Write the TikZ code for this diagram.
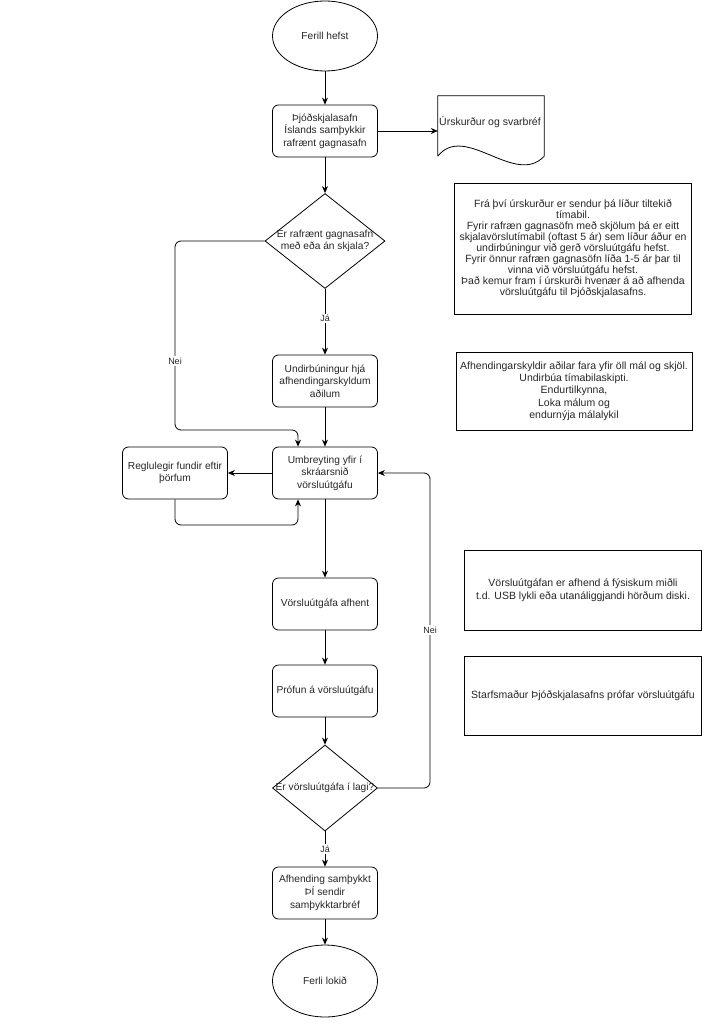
\documentclass[tikz,border=0pt]{standalone}
\usepackage{fontspec}
\setmainfont{Liberation Sans}
\usetikzlibrary{arrows.meta,shapes.geometric}
\begin{document}
\begin{tikzpicture}[x=1pt,y=-1pt,
  every node/.style={font=\fontsize{10.2}{12.7}\selectfont, text=black!85},
  proc/.style={draw, rounded corners=6pt, line width=0.8pt, minimum width=105pt, minimum height=52pt, inner sep=1pt, align=center},
  term/.style={draw, ellipse, line width=0.8pt, minimum width=105pt, minimum height=70pt, inner sep=0pt, align=center},
  decision/.style={draw, diamond, line width=0.8pt, inner sep=0pt},
  notebox/.style={draw, line width=0.8pt, inner sep=0pt},
  conn/.style={line width=0.8pt, -{Stealth[length=7pt,width=6pt]}},
  lab/.style={fill=white, inner sep=1.5pt, font=\fontsize{9}{10}\selectfont}
]
\useasboundingbox (0,0) rectangle (725,1024);

% main flow
\node[term] (start) at (325,36) {Ferill hefst};
\node[proc] (b1) at (325,131) {Þjóðskjalasafn\\Íslands samþykkir\\rafrænt gagnasafn};
\node[minimum width=106pt, minimum height=60pt, inner sep=0pt] (doc) at (491,126) {};
\draw[line width=0.8pt] (doc.south west) -- (doc.north west) -- (doc.north east) -- (doc.south east)
  .. controls ([xshift=-29pt,yshift=-31pt]doc.south east) and ([xshift=27pt,yshift=34pt]doc.south west) .. (doc.south west);
\node[font=\fontsize{10.5}{12.5}\selectfont] (doctext) at (490,122) {Úrskurður og svarbréf};

\node[decision, minimum width=120pt, minimum height=95pt,
  label={[align=center]center:Er rafrænt gagnasafn\\með eða án skjala?}] (d1) at (325,241) {};
\node[proc] (b2) at (325,381) {Undirbúningur hjá\\afhendingarskyldum\\aðilum};
\node[proc] (b3) at (325,473) {Umbreyting yfir í\\skráarsnið\\vörsluútgáfu};
\node[proc] (b4) at (175,473) {Reglulegir fundir eftir\\þörfum};
\node[proc] (b5) at (325,604) {Vörsluútgáfa afhent};
\node[proc] (b6) at (325,691) {Prófun á vörsluútgáfu};
\node[decision, minimum width=105pt, minimum height=86pt,
  label={[align=center]center:Er vörsluútgáfa í lagi?}] (d2) at (325,788) {};
\node[proc] (b7) at (325,893) {Afhending samþykkt\\ÞÍ sendir\\samþykktarbréf};
\node[term, minimum height=72pt] (end) at (325,981) {Ferli lokið};

% notes
\node[notebox, minimum width=237pt, minimum height=131pt,
  label={[align=center, font=\fontsize{10.5}{11}\selectfont]center:Frá því úrskurður er sendur þá líður tiltekið\\tímabil.\\Fyrir rafræn gagnasöfn með skjölum þá er eitt\\skjalavörslutímabil (oftast 5 ár) sem líður áður en\\undirbúningur við gerð vörsluútgáfu hefst.\\Fyrir önnur rafræn gagnasöfn líða 1-5 ár þar til\\vinna við vörsluútgáfu hefst.\\Það kemur fram í úrskurði hvenær á að afhenda\\vörsluútgáfu til Þjóðskjalasafns.}] (n1) at (573,249) {};
\node[notebox, minimum width=236pt, minimum height=78pt,
  label={[align=center, font=\fontsize{10.5}{12.3}\selectfont]center:Afhendingarskyldir aðilar fara yfir öll mál og skjöl.\\Undirbúa tímabilaskipti.\\Endurtilkynna,\\Loka málum og\\endurnýja málalykil}] (n2) at (574,391) {};
\node[notebox, minimum width=237pt, minimum height=80pt,
  label={[align=center, font=\fontsize{10.5}{13}\selectfont]center:Vörsluútgáfan er afhend á fýsiskum miðli\\t.d. USB lykli eða utanáliggjandi hörðum diski.}] (n3) at (583,590) {};
\node[notebox, minimum width=237pt, minimum height=79pt,
  label={[align=center, font=\fontsize{10.5}{12}\selectfont]center:Starfsmaður Þjóðskjalasafns prófar vörsluútgáfu}] (n4) at (583,696) {};

% coordinates for bends
\coordinate (neiA) at (175,430);
\coordinate (loopB) at (175,525);
\coordinate (neiC) at (430,473);

% connectors
\draw[conn] (start) -- (b1);
\draw[conn] (b1.east) -- (b1.east -| doc.west);
\draw[conn] (b1) -- (d1);
\draw[conn] (d1) -- (b2) node[lab, pos=0.45] {Já};
\draw[conn, rounded corners=6pt] (d1.west) -| (neiA) -| ([xshift=-27pt]b3.north);
\node[lab] (neilab1) at (175,361) {Nei};
\draw[conn] (b2) -- (b3);
\draw[conn] (b3.west) -- (b4.east);
\draw[conn, rounded corners=6pt] (b4.south) -- (loopB) -| ([xshift=-27pt]b3.south);
\draw[conn] (b3) -- (b5);
\draw[conn] (b5) -- (b6);
\draw[conn] (b6) -- (d2);
\draw[conn, rounded corners=6pt] (d2.east) -| (neiC) -- (b3.east);
\node[lab] (neilab2) at (430,630) {Nei};
\draw[conn] (d2) -- (b7) node[lab, pos=0.5] {Já};
\draw[conn] (b7) -- (end);
\end{tikzpicture}
\end{document}
